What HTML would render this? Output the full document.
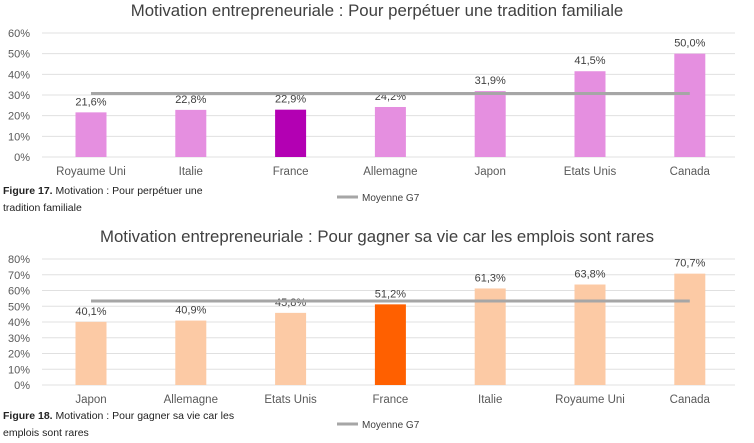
<!DOCTYPE html>
<html><head><meta charset="utf-8"><style>
body{margin:0;background:#fff;width:754px;height:438px;overflow:hidden;font-family:"Liberation Sans",sans-serif}
svg text{font-family:"Liberation Sans",sans-serif}
</style></head><body>
<svg id="s" width="754" height="438"></svg>
<script>
const cats1=["Royaume Uni","Italie","France","Allemagne","Japon","Etats Unis","Canada"];
const vals1=[21.6,22.8,22.9,24.2,31.9,41.5,50.0];
const mean1=30.7;
const ticks1=[0,10,20,30,40,50,60];
const cats2=["Japon","Allemagne","Etats Unis","France","Italie","Royaume Uni","Canada"];
const vals2=[40.1,40.9,45.8,51.2,61.3,63.8,70.7];
const mean2=53.3;
const ticks2=[0,10,20,30,40,50,60,70,80];
const NS="http://www.w3.org/2000/svg";
const svg=document.getElementById('s');
function el(t,a,txt){const e=document.createElementNS(NS,t);for(const k in a)e.setAttribute(k,a[k]);if(txt!==undefined)e.textContent=txt;svg.appendChild(e);return e;}
function chart(o){
  const y=v=>o.y0-(v-0)*(o.y0-o.yTop)/o.max;
  const x=i=>91+i*99.8;
  let t=el('text',{x:377,y:o.titleY,'text-anchor':'middle','font-size':16.8,fill:'#404040'},o.title);
  
  o.ticks.forEach(v=>{
    let g=el('line',{x1:42,x2:735,y1:y(v),y2:y(v),stroke:'#e0e0e0','stroke-width':1});
    
    let l=el('text',{x:30,y:y(v)+4,'text-anchor':'end','font-size':11,fill:'#595959'},v+'%');
    
  });
  o.cats.forEach((c,i)=>{
    const v=o.vals[i];
    let r=el('rect',{x:x(i)-15.5,y:y(v),width:31,height:o.y0-y(v),fill:c==='France'?o.hi:o.col});
    
    let lb=el('text',{x:x(i),y:y(v)-7,'text-anchor':'middle','font-size':11,fill:'#404040'},v.toFixed(1).replace('.',',')+'%');
    
    let cl=el('text',{x:x(i),y:o.y0+18,'text-anchor':'middle','font-size':11.5,fill:'#595959'},c);
    
  });
  let m=el('line',{x1:x(0),x2:x(6),y1:y(o.mean),y2:y(o.mean),stroke:'#a6a6a6','stroke-width':3});
  
  let ll=el('line',{x1:337,x2:358,y1:o.legY-4,y2:o.legY-4,stroke:'#a6a6a6','stroke-width':3});
  
  let lt=el('text',{x:362,y:o.legY,'font-size':10,fill:'#404040'},'Moyenne G7');
  
  let c1=el('text',{x:3,y:o.capY,'font-size':10.5,fill:'#222'});
  
  const b=document.createElementNS(NS,'tspan');b.setAttribute('font-weight','bold');b.textContent=o.fig+'  ';c1.appendChild(b);
  const r2=document.createElementNS(NS,'tspan');r2.textContent=o.cap1;c1.appendChild(r2);
  let c2=el('text',{x:3,y:o.capY+17,'font-size':10.5,fill:'#222'},o.cap2);
  
}
chart({id:'fig17',title:'Motivation entrepreneuriale : Pour perpétuer une tradition familiale',titleY:16,cats:cats1,vals:vals1,mean:mean1,ticks:ticks1,max:60,y0:157,yTop:33,col:'#e58fe0',hi:'#b300b3',legY:201,capY:194,fig:'Figure 17.',cap1:'Motivation : Pour perpétuer une',cap2:'tradition familiale'});
chart({id:'fig18',title:'Motivation entrepreneuriale : Pour gagner sa vie car les emplois sont rares',titleY:242,cats:cats2,vals:vals2,mean:mean2,ticks:ticks2,max:80,y0:385,yTop:259,col:'#fccaa5',hi:'#ff6000',legY:428,capY:419,fig:'Figure 18.',cap1:'Motivation : Pour gagner sa vie car les',cap2:'emplois sont rares'});
</script>
</body></html>
